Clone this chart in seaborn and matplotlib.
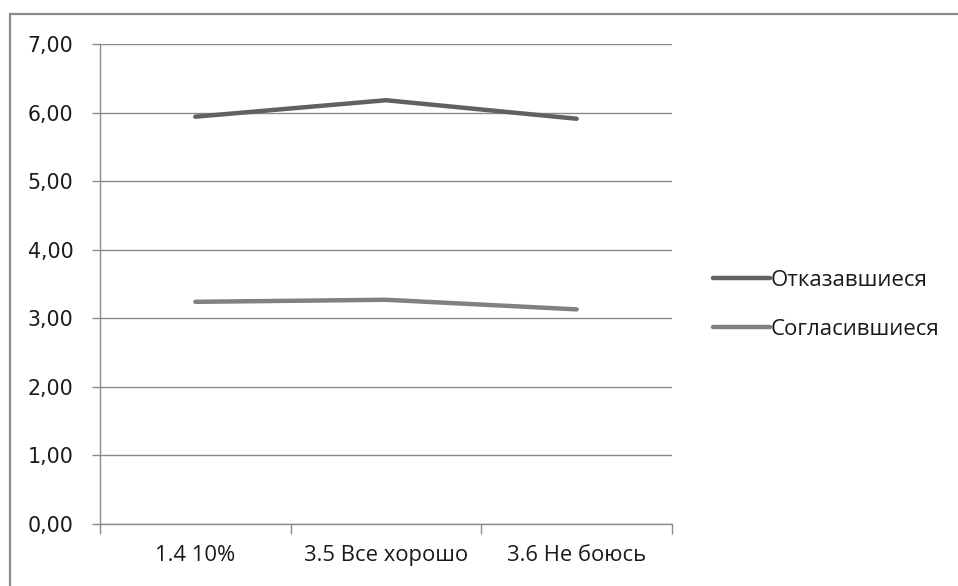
import matplotlib
matplotlib.use("Agg")
import matplotlib.pyplot as plt
import matplotlib.ticker as mticker
from matplotlib.patches import Rectangle
import seaborn as sns
import pandas as pd

categories = ["1.4 10%", "3.5 Все хорошо", "3.6 Не боюсь"]
otkazavshiesya = [5.94, 6.18, 5.91]
soglasivshiesya = [3.24, 3.27, 3.13]
series_names = ["Отказавшиеся", "Согласившиеся"]
y_ticks = [0, 1, 2, 3, 4, 5, 6, 7]

df = pd.DataFrame({
    "cat": categories * 2,
    "value": otkazavshiesya + soglasivshiesya,
    "series": [series_names[0]] * 3 + [series_names[1]] * 3,
})

sns.set_theme(style="white")
plt.rcParams["font.family"] = ["DejaVu Sans"]

W, H = 958, 586
fig = plt.figure(figsize=(W / 100, H / 100), dpi=100)
ax = fig.add_axes([100 / W, (H - 524) / H, (672 - 100) / W, (524 - 44) / H])

palette = {series_names[0]: "#616161", series_names[1]: "#818181"}
sns.lineplot(data=df, x="cat", y="value", hue="series", palette=palette,
             linewidth=3.2, ax=ax, sort=False, solid_capstyle="round")

ax.set_xlim(-0.5, 2.5)
ax.set_ylim(0, 7)
ax.set_yticks(y_ticks)
ax.yaxis.set_major_formatter(mticker.FuncFormatter(lambda v, p: f"{v:.2f}".replace(".", ",")))
ax.grid(axis="y", color="#8a8a8a", linewidth=1.0)
ax.set_axisbelow(True)
ax.set_xlabel("")
ax.set_ylabel("")

for s in ["top", "right"]:
    ax.spines[s].set_visible(False)
for s in ["left", "bottom"]:
    ax.spines[s].set_color("#8a8a8a")
    ax.spines[s].set_linewidth(1.0)

ax.tick_params(axis="y", which="major", left=True, length=6, width=1, color="#8a8a8a",
               labelsize=14.8, pad=13, labelcolor="#1a1a1a")
ax.set_xticks([0, 1, 2])
ax.set_xticklabels(categories, fontfamily="Open Sans", fontsize=15.8)
ax.set_xticks([-0.5, 0.5, 1.5, 2.5], minor=True)
ax.tick_params(axis="x", which="major", bottom=False, length=0, pad=15, labelcolor="#1a1a1a")
ax.tick_params(axis="x", which="minor", bottom=True, length=7, width=1, color="#8a8a8a")

leg = ax.legend(loc="center left", bbox_to_anchor=(693 / W, (H - 305) / H),
                bbox_transform=fig.transFigure, frameon=False,
                prop={"family": "Open Sans", "size": 16}, handlelength=2.55,
                handletextpad=0.05, labelspacing=1.25)
for t in leg.get_texts():
    t.set_color("#1a1a1a")

fig.patches.append(Rectangle((10 / W, -0.05), 1.2, 1.05 - 14 / H + 0.0, transform=fig.transFigure,
                             fill=False, edgecolor="#8a8a8a", linewidth=1.6))

fig.savefig("out.png", dpi=100, facecolor="white")
